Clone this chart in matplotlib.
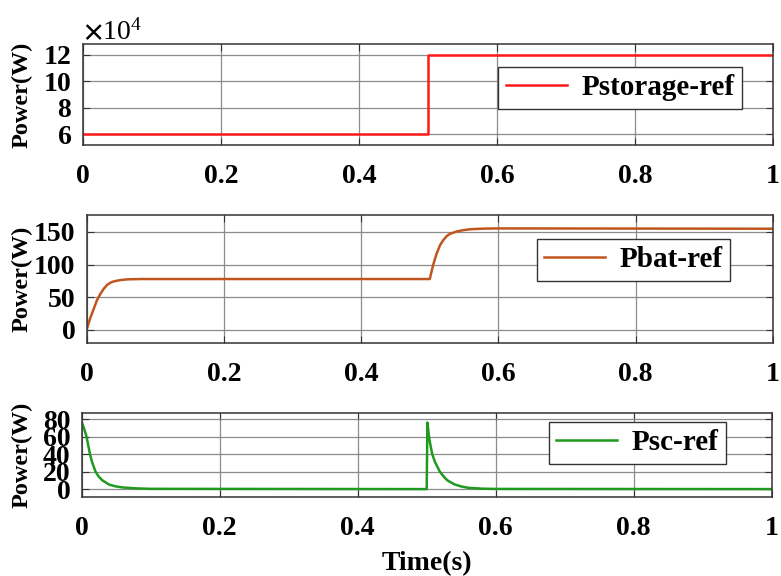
import numpy as np
import matplotlib
matplotlib.use("Agg")
import matplotlib.pyplot as plt
from matplotlib.ticker import ScalarFormatter

plt.rcParams['font.family'] = ['Liberation Serif', 'DejaVu Serif']
plt.rcParams['font.weight'] = 'bold'
plt.rcParams['mathtext.fontset'] = 'stix'

t_storage = [0.0, 0.5, 0.5, 1.0]
p_storage = [60000, 60000, 120000, 120000]

t_bat = [0.0, 0.005, 0.01, 0.015, 0.02, 0.025, 0.03, 0.035, 0.04, 0.05, 0.06, 0.08, 0.1,
         0.5, 0.505, 0.51, 0.515, 0.52, 0.525, 0.53, 0.54, 0.55, 0.56, 0.58, 0.6, 1.0]
p_bat = [0, 17, 31, 45, 55, 63, 69, 72.5, 74.5, 76.5, 77.5, 78, 78,
         78, 100, 117, 130, 138, 144, 147.5, 151, 153, 154.3, 155.2, 155.5, 155]

t_sc = [0.0, 0.004, 0.007, 0.01, 0.012, 0.015, 0.02, 0.025, 0.03, 0.04, 0.05, 0.06, 0.08, 0.1,
        0.5, 0.501, 0.503, 0.505, 0.508, 0.512, 0.519, 0.525, 0.53, 0.54, 0.55, 0.56, 0.58, 0.6, 1.0]
p_sc = [77, 68, 60, 48, 40, 31, 20, 14, 10, 5, 3, 1.8, 0.8, 0.3,
        0, 76, 62, 52, 40, 31, 20, 14, 10, 5.5, 3, 1.5, 0.5, 0.2, 0]

x_ticks = [0, 0.2, 0.4, 0.6, 0.8, 1]
x_ticklabels = ['0', '0.2', '0.4', '0.6', '0.8', '1']

fig = plt.figure(figsize=(7.81, 5.76), dpi=100)

ax1 = fig.add_axes([0.1063, 0.7483, 0.8835, 0.1753])
ax2 = fig.add_axes([0.1108, 0.4045, 0.8790, 0.2222])
ax3 = fig.add_axes([0.1046, 0.1372, 0.8835, 0.1458])

ax1.plot(t_storage, p_storage, color='#ff1a1a', lw=1.8, label='Pstorage-ref')
ax2.plot(t_bat, p_bat, color='#c0561e', lw=1.8, label='Pbat-ref')
ax3.plot(t_sc, p_sc, color='#1f9a1f', lw=1.8, label='Psc-ref')

ax1.set_ylim(52000, 128000)
ax1.set_yticks([60000, 80000, 100000, 120000])
fmt = ScalarFormatter(useMathText=True)
fmt.set_powerlimits((4, 4))
ax1.yaxis.set_major_formatter(fmt)

ax2.set_ylim(-20, 176)
ax2.set_yticks([0, 50, 100, 150])
ax3.set_ylim(-9, 87)
ax3.set_yticks([0, 20, 40, 60, 80])

legend_pos = [(0.955, 0.772), (0.938, 0.8125), (0.934, 0.893)]

for ax, lp in zip((ax1, ax2, ax3), legend_pos):
    ax.set_xlim(0, 1)
    ax.set_xticks(x_ticks)
    ax.set_xticklabels(x_ticklabels)
    ax.grid(True, color='#8c8c8c', lw=0.9)
    ax.tick_params(axis='both', direction='in', top=True, right=True, labelsize=20,
                   length=5, color='#333333')
    ax.tick_params(axis='x', pad=14)
    ax.tick_params(axis='y', pad=8)
    for lab in ax.get_xticklabels() + ax.get_yticklabels():
        lab.set_fontweight('bold')
    for s in ax.spines.values():
        s.set_color('#333333')
        s.set_linewidth(1.1)
    ax.set_ylabel('Power(W)', fontsize=17.5, fontweight='bold')
    ax.legend(loc='upper right', bbox_to_anchor=lp, fancybox=False,
              edgecolor='#333333', framealpha=1, handlelength=2.1,
              borderpad=0.25, borderaxespad=0, handletextpad=0.5,
              prop={'weight': 'bold', 'size': 21})

ax1.yaxis.set_label_coords(-0.073, 0.5)
ax2.yaxis.set_label_coords(-0.079, 0.5)
ax3.yaxis.set_label_coords(-0.071, 0.5)

ax1.yaxis.get_offset_text().set_fontsize(20)
ax1.yaxis.get_offset_text().set_fontweight('normal')

ax3.set_xlabel('Time(s)', fontsize=20, fontweight='bold', labelpad=7)

fig.savefig('out.png', dpi=100)
